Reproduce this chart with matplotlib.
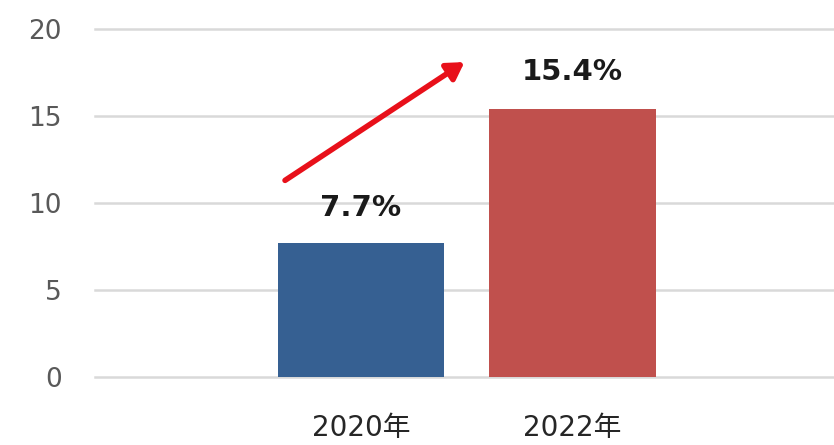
import matplotlib
matplotlib.use("Agg")
import matplotlib.pyplot as plt

categories = ["2020年", "2022年"]
values = [7.7, 15.4]
labels = ["7.7%", "15.4%"]
colors = ["#366092", "#C0504D"]
yticks = [0, 5, 10, 15, 20]

fig = plt.figure(figsize=(8.34, 4.45), dpi=100)
ax = fig.add_axes([95/834, 68/445, 1 - 95/834, (416-68)/445])

x = list(range(len(categories)))
ax.bar(x, values, width=0.79, color=colors, zorder=3)
ax.set_xlim(-1.26, 2.24)
ax.set_ylim(0, 20)
ax.set_yticks(yticks)
ax.set_yticklabels([str(t) for t in yticks], fontsize=19, color="#595959",
                   family=["DejaVu Sans"])
ax.set_xticks(x)
ax.set_xticklabels(categories, fontsize=20, color="#262626",
                   family=["DejaVu Sans", "Noto Sans CJK JP"])
ax.tick_params(axis="y", length=0, pad=24)
ax.tick_params(axis="x", length=0, pad=27)
for t in yticks:
    ax.axhline(t, color="#D9D9D9", linewidth=1.8, zorder=0, clip_on=False)
for s in ax.spines.values():
    s.set_visible(False)

label_y = [9.7, 17.5]
for xi, lab, ly in zip(x, labels, label_y):
    ax.text(xi, ly, lab, ha="center", va="center", fontsize=21,
            fontweight="bold", color="#1A1A1A", family=["DejaVu Sans"])

ax.annotate("", xy=(0.49, 18.1), xytext=(-0.36, 11.3),
            arrowprops=dict(arrowstyle="-|>,head_length=1.0,head_width=0.6",
                            color="#E8101A", lw=4, shrinkA=0, shrinkB=0),
            zorder=5)

fig.savefig("out.png", dpi=100)
